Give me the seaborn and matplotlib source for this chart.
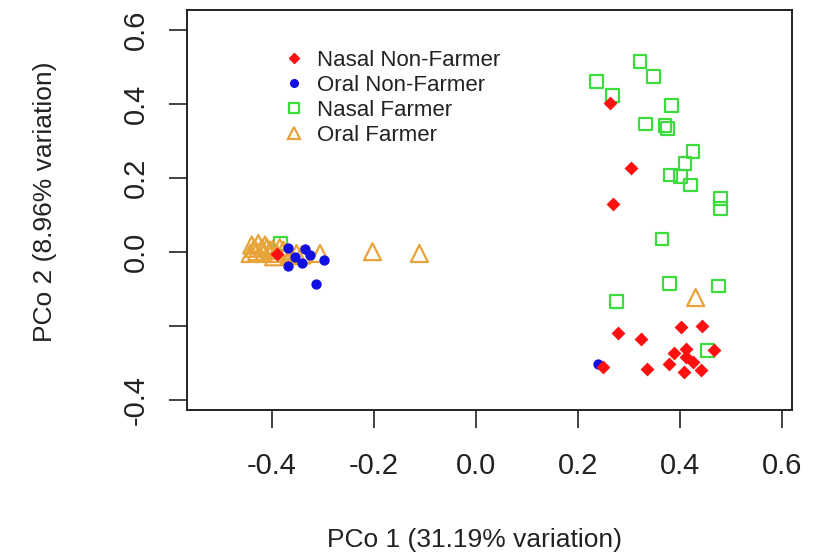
import matplotlib
matplotlib.use("Agg")
import matplotlib.pyplot as plt
from matplotlib.lines import Line2D
import seaborn as sns

# PCoA coordinates
nasal_nonfarmer_x = [0.263, 0.304, 0.269, 0.279, 0.323, 0.403, 0.444, 0.389, 0.412, 0.412,
                     0.425, 0.379, 0.335, 0.408, 0.441, 0.467, 0.250, -0.390]
nasal_nonfarmer_y = [0.402, 0.226, 0.130, -0.220, -0.235, -0.202, -0.200, -0.272, -0.263, -0.285,
                     -0.296, -0.304, -0.317, -0.323, -0.319, -0.265, -0.312, -0.005]

oral_nonfarmer_x = [0.240, -0.314, -0.368, -0.342, -0.299, -0.335, -0.368, -0.355, -0.325]
oral_nonfarmer_y = [-0.303, -0.086, -0.038, -0.031, -0.022, 0.007, 0.010, -0.013, -0.008]

nasal_farmer_x = [0.322, 0.349, 0.237, 0.268, 0.384, 0.333, 0.371, 0.376, 0.426, 0.410,
                  0.382, 0.402, 0.421, 0.480, 0.480, 0.365, 0.379, 0.476, 0.276, 0.454, -0.384]
nasal_farmer_y = [0.514, 0.474, 0.460, 0.422, 0.395, 0.346, 0.341, 0.334, 0.271, 0.240,
                  0.208, 0.205, 0.181, 0.145, 0.118, 0.035, -0.085, -0.092, -0.134, -0.267, 0.023]

oral_farmer_x = [-0.203, -0.111, 0.431, -0.440, -0.427, -0.414, -0.430, -0.404, -0.391, -0.378,
                 -0.352, -0.342, -0.306, -0.443, -0.397, -0.417, -0.420, -0.385, -0.365,
                 -0.435, -0.410, -0.398, -0.372]
oral_farmer_y = [0.001, -0.004, -0.123, 0.019, 0.023, 0.019, 0.001, 0.005, -0.004, 0.005,
                 -0.004, -0.008, -0.004, -0.004, -0.013, -0.004, 0.010, 0.012, -0.010,
                 0.010, 0.012, 0.008, 0.000]

x_ticks = [-0.4, -0.2, 0.0, 0.2, 0.4, 0.6]
y_ticks = [-0.4, -0.2, 0.0, 0.2, 0.4, 0.6]
y_tick_labels = ["-0.4", "", "0.0", "0.2", "0.4", "0.6"]

RED = "#ff1010"
BLUE = "#1010e0"
GREEN = "#3ddc3d"
ORANGE = "#e8a33a"

sns.set_theme(style="white")
plt.rcParams["font.family"] = ["Liberation Sans", "DejaVu Sans"]

fig = plt.figure(figsize=(8.19, 5.57), dpi=100)
ax = fig.add_axes([0.2283, 0.2639, 0.7387, 0.7181])

sns.scatterplot(x=nasal_farmer_x, y=nasal_farmer_y, ax=ax, marker="s", s=85,
                color=GREEN, facecolor="none", edgecolor=GREEN, linewidth=1.6)
sns.scatterplot(x=oral_farmer_x, y=oral_farmer_y, ax=ax, marker="^", s=150,
                color=ORANGE, facecolor="none", edgecolor=ORANGE, linewidth=1.6)
sns.scatterplot(x=oral_nonfarmer_x, y=oral_nonfarmer_y, ax=ax, marker="o", s=55,
                color=BLUE, edgecolor=BLUE, linewidth=0)
sns.scatterplot(x=nasal_nonfarmer_x, y=nasal_nonfarmer_y, ax=ax, marker="D", s=50,
                color=RED, edgecolor=RED, linewidth=0)

ax.set_xlim(-0.567, 0.620)
ax.set_ylim(-0.427, 0.654)
ax.set_xticks(x_ticks)
ax.set_xticklabels([f"{v:.1f}" for v in x_ticks])
ax.set_yticks(y_ticks)
ax.set_yticklabels(y_tick_labels, rotation=90, va="center")
ax.tick_params(direction="out", length=13, width=1.2, colors="#222222",
               labelsize=21, pad=14, bottom=True, left=True)
ax.tick_params(axis="x", pad=17)
for spine in ax.spines.values():
    spine.set_color("#222222")
    spine.set_linewidth(1.4)
ax.grid(False)

ax.set_xlabel("PCo 1 (31.19% variation)", fontsize=19, color="#222222")
ax.set_ylabel("PCo 2 (8.96% variation)", fontsize=19, color="#222222")
ax.xaxis.set_label_coords(0.476, -0.295)
ax.yaxis.set_label_coords(-0.215, 0.52)

handles = [
    Line2D([], [], linestyle="none", marker="D", markersize=5.5, color=RED),
    Line2D([], [], linestyle="none", marker="o", markersize=5.5, color=BLUE),
    Line2D([], [], linestyle="none", marker="s", markersize=7.5, markerfacecolor="none",
           markeredgecolor=GREEN, markeredgewidth=1.6),
    Line2D([], [], linestyle="none", marker="^", markersize=9, markerfacecolor="none",
           markeredgecolor=ORANGE, markeredgewidth=1.6),
]
labels = ["Nasal Non-Farmer", "Oral Non-Farmer", "Nasal Farmer", "Oral Farmer"]
ax.legend(handles, labels, loc="upper left", bbox_to_anchor=(0.1587, 0.90),
          frameon=False, fontsize=16, labelspacing=0.18, handlelength=1.0,
          handletextpad=0.55, borderpad=0, borderaxespad=0, labelcolor="#222222")

fig.savefig("out.png", dpi=100, facecolor="white")
